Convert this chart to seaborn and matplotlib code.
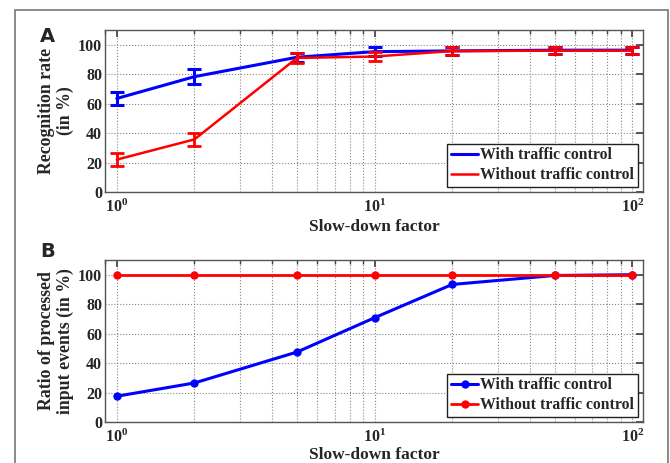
import numpy as np
import pandas as pd
import matplotlib
matplotlib.use("Agg")
import matplotlib.pyplot as plt
from matplotlib.patches import Rectangle
from matplotlib.ticker import LogLocator, NullFormatter, MultipleLocator
import seaborn as sns

# ---- data ----
slowdown = [1, 2, 5, 10, 20, 50, 100]
rec_with = [63.5, 78.3, 91.5, 95.3, 95.8, 96.3, 96.3]
rec_with_err = [4.6, 5.3, 3.0, 3.0, 2.7, 2.4, 2.4]
rec_without = [22.0, 35.7, 91.0, 92.0, 95.7, 96.0, 96.0]
rec_without_err = [4.5, 4.5, 3.5, 3.0, 2.7, 2.4, 2.4]
proc_with = [17.5, 26.5, 47.5, 70.8, 93.4, 99.5, 100.0]
proc_without = [100, 100, 100, 100, 100, 100, 100]
series_names = ["With traffic control", "Without traffic control"]
colors = {"With traffic control": "#0000ff", "Without traffic control": "#ff0000"}

sns.set_theme(style="white")
plt.rcParams["font.family"] = ["Liberation Serif", "DejaVu Serif"]
plt.rcParams["font.weight"] = "bold"
plt.rcParams["mathtext.fontset"] = "custom"
plt.rcParams["mathtext.rm"] = "Liberation Serif:bold"
plt.rcParams["mathtext.bf"] = "Liberation Serif:bold"
plt.rcParams["mathtext.it"] = "Liberation Serif:bold"

fig = plt.figure(figsize=(6.70, 4.63), dpi=100)
W, H = 670, 463

def axrect(l, t, r, b):
    return [l / W, 1 - b / H, (r - l) / W, (b - t) / H]

axA = fig.add_axes(axrect(105, 30, 643, 192))
axB = fig.add_axes(axrect(105, 260, 643, 422))

dfA = pd.DataFrame({
    "x": slowdown * 2,
    "y": rec_with + rec_without,
    "series": [series_names[0]] * len(slowdown) + [series_names[1]] * len(slowdown),
})
dfB = pd.DataFrame({
    "x": slowdown * 2,
    "y": proc_with + proc_without,
    "series": [series_names[0]] * len(slowdown) + [series_names[1]] * len(slowdown),
})

# Panel A
sns.lineplot(data=dfA[dfA.series == series_names[0]], x="x", y="y", color=colors[series_names[0]],
             lw=2.2, ax=axA, label=series_names[0], zorder=3)
sns.lineplot(data=dfA[dfA.series == series_names[1]], x="x", y="y", color=colors[series_names[1]],
             lw=1.8, ax=axA, label=series_names[1], zorder=4)
axA.errorbar(slowdown, rec_with, yerr=rec_with_err, fmt="none", ecolor=colors[series_names[0]],
             elinewidth=2.2, capsize=5, capthick=2.2, zorder=3)
axA.errorbar(slowdown, rec_without, yerr=rec_without_err, fmt="none", ecolor=colors[series_names[1]],
             elinewidth=2.0, capsize=5, capthick=2.0, zorder=4)

# Panel B
sns.lineplot(data=dfB[dfB.series == series_names[0]], x="x", y="y", color=colors[series_names[0]],
             lw=2.2, marker="o", markersize=6, markeredgewidth=0, ax=axB, label=series_names[0], zorder=3)
sns.lineplot(data=dfB[dfB.series == series_names[1]], x="x", y="y", color=colors[series_names[1]],
             lw=2.0, marker="o", markersize=6, markeredgewidth=0, ax=axB, label=series_names[1], zorder=4)

ylabels = ["Recognition rate\n(in %)", "Ratio of processed\ninput events (in %)"]
xpads = [2, 0.5]
for ax, yl, xp in zip([axA, axB], ylabels, xpads):
    ax.set_xscale("log")
    ax.set_xlim(0.9, 110)
    ax.set_ylim(0, 110)
    ax.yaxis.set_major_locator(MultipleLocator(20))
    ax.xaxis.set_major_locator(LogLocator(base=10, numticks=10))
    ax.xaxis.set_minor_locator(LogLocator(base=10, subs=np.arange(2, 10), numticks=20))
    ax.xaxis.set_minor_formatter(NullFormatter())
    ax.grid(True, which="major", axis="both", color="#888888", ls=":", lw=0.8)
    ax.grid(True, which="minor", axis="x", color="#888888", ls=":", lw=0.8)
    ax.tick_params(which="both", direction="in", top=True, right=True, color="#444444")
    ax.tick_params(which="major", length=5, labelsize=11.5)
    ax.tick_params(axis="y", which="major", pad=2)
    ax.tick_params(axis="x", which="major", pad=5)
    ax.tick_params(which="minor", length=3)
    for lab in ax.get_yticklabels() + ax.get_xticklabels():
        lab.set_fontweight("bold")
    for s in ax.spines.values():
        s.set_color("#555555")
        s.set_linewidth(1.0)
    ax.set_xlabel("Slow-down factor", fontsize=12.5, fontweight="bold", labelpad=xp)
    ax.set_ylabel(yl, fontsize=12.8, fontweight="bold", labelpad=3, linespacing=1.15)
    leg = ax.legend(loc="lower right", frameon=True, fancybox=False,
                    borderpad=0.25, handlelength=1.7, handletextpad=0.15, labelspacing=0.25,
                    borderaxespad=0.3, prop={"weight": "bold", "size": 11.3})
    leg.get_frame().set_edgecolor("#222222")
    leg.get_frame().set_linewidth(1.0)
    leg.get_frame().set_alpha(1.0)

fig.text(40 / W, 1 - 36 / H, "A", fontsize=14, fontweight="bold", family="DejaVu Sans", va="center")
fig.text(40 / W, 1 - 251.5 / H, "B", fontsize=14, fontweight="bold", family="DejaVu Sans", va="center")

fig.patches.append(Rectangle((15 / W, -0.05), (668 - 15) / W, 1 - 10 / H + 0.05,
                             transform=fig.transFigure, fill=False, edgecolor="#777777", lw=1.2))

fig.savefig("out.png", dpi=100)
